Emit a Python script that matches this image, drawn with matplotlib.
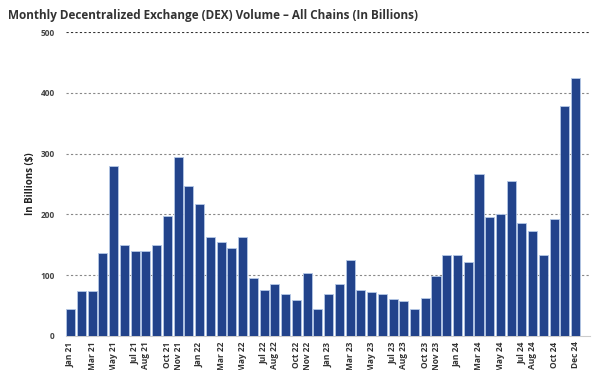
import numpy as np
import matplotlib
matplotlib.use('Agg')
from matplotlib import pyplot as plt

plt.rcParams['font.family'] = ['Open Sans', 'DejaVu Sans']

months = [f'{m} {y}' for y in ['21', '22', '23', '24']
          for m in ['Jan', 'Feb', 'Mar', 'Apr', 'May', 'Jun',
                    'Jul', 'Aug', 'Sep', 'Oct', 'Nov', 'Dec']]

volume = [45, 74, 74, 136, 279, 150, 139, 139, 150, 197, 294, 246,
          217, 162, 154, 145, 162, 95, 76, 86, 69, 59, 103, 44,
          69, 85, 125, 76, 73, 69, 60, 57, 45, 62, 98, 134,
          134, 122, 267, 195, 200, 255, 186, 172, 133, 193, 379, 424]

tick_labels = ['Jan 21', 'Mar 21', 'May 21', 'Jul 21', 'Aug 21', 'Oct 21', 'Nov 21',
               'Jan 22', 'Mar 22', 'May 22', 'Jul 22', 'Aug 22', 'Oct 22', 'Nov 22',
               'Jan 23', 'Mar 23', 'May 23', 'Jul 23', 'Aug 23', 'Oct 23', 'Nov 23',
               'Jan 24', 'Mar 24', 'May 24', 'Jul 24', 'Aug 24', 'Oct 24', 'Dec 24']

y_ticks = [0, 100, 200, 300, 400, 500]

fig = plt.figure(figsize=(5.98, 3.70), dpi=100)
ax = fig.add_axes([0.110, 0.092, 0.877, 0.8215])

x = np.arange(len(months))
ax.bar(x, volume, width=0.84, color='#22438b', edgecolor='#b5c8e6', linewidth=0.6, zorder=3)

ax.set_xlim(-0.45, 48.35)
ax.set_ylim(0, 500)
ax.set_yticks(y_ticks)
ax.set_yticklabels([str(v) for v in y_ticks], fontsize=6, color='#444444', fontweight='bold')
for v in y_ticks[1:]:
    c = '#333333' if v == 500 else '#888888'
    ax.axhline(v, color=c, linestyle=(0, (2, 2)), linewidth=0.8, zorder=1)

pos = [months.index(l) for l in tick_labels]
ax.set_xticks(pos)
ax.set_xticklabels(tick_labels, rotation=90, fontsize=6, color='#333333', fontweight='bold')
ax.tick_params(axis='x', length=0, pad=4)
ax.tick_params(axis='y', length=0, pad=8)

for s in ['top', 'right', 'left']:
    ax.spines[s].set_visible(False)
ax.spines['bottom'].set_color('#cccccc')

ax.set_ylabel('In Billions ($)', fontsize=7, fontweight='bold', color='#222222', labelpad=3)

fig.text(0.013, 0.976, 'Monthly Decentralized Exchange (DEX) Volume \u2013 All Chains (In Billions)',
         fontsize=8.5, fontweight='bold', color='#333333', va='top', ha='left')

fig.savefig('out.png', dpi=100)
